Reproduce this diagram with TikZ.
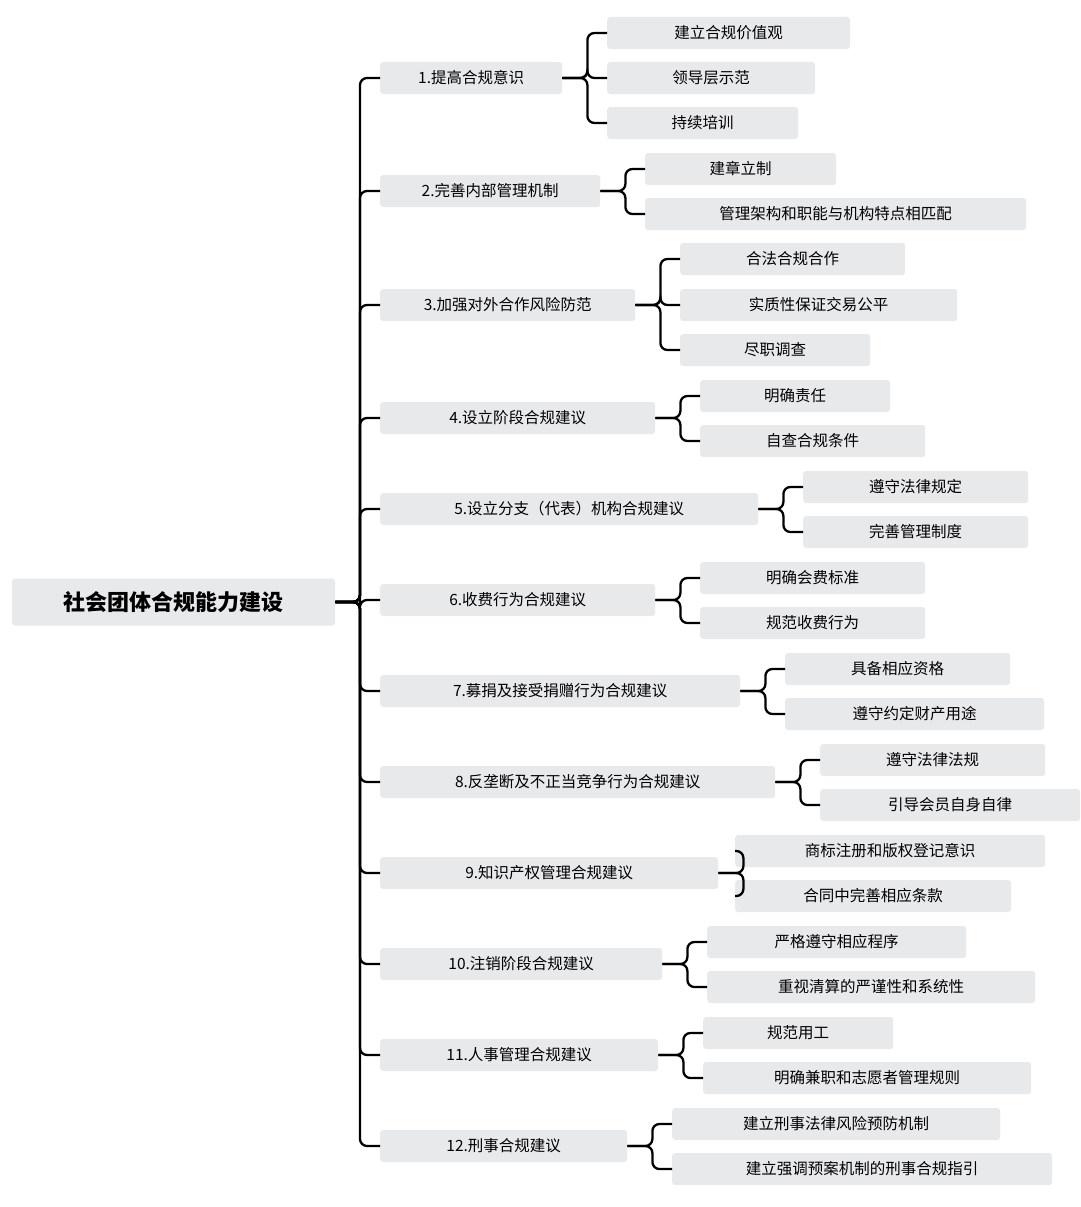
\documentclass[tikz,border=0pt]{standalone}
\usepackage{fontspec}
\setmainfont{Noto Sans CJK SC}
\begin{document}
\begin{tikzpicture}[x=1pt,y=-1pt,
  box/.style={fill=boxgray,rounded corners=3pt,inner sep=0pt,minimum height=32pt,anchor=west,font=\fontsize{15.5}{18}\selectfont},
  conn/.style={line width=2.3pt,rounded corners=7pt}]
\definecolor{boxgray}{HTML}{E8E9EB}
\useasboundingbox (0,0) rectangle (1080,1207);
\node[box,minimum width=323pt,minimum height=47pt,font=\fontsize{22}{26}\selectfont\bfseries] (root) at (12,602) {社会团体合规能力建设};
\foreach \i/\r/\y/\t in {1/562/78/1.提高合规意识,2/600/191/2.完善内部管理机制,3/635/305/3.加强对外合作风险防范,4/655/418/4.设立阶段合规建议,5/758/509/5.设立分支（代表）机构合规建议,6/655/600/6.收费行为合规建议,7/740/691/7.募捐及接受捐赠行为合规建议,8/775/782/8.反垄断及不正当竞争行为合规建议,9/718/873/9.知识产权管理合规建议,10/662/964/10.注销阶段合规建议,11/658/1055/11.人事管理合规建议,12/627/1146/12.刑事合规建议}{
  \pgfmathsetmacro{\w}{\r-380}
  \node[box,minimum width=\w pt] (a\i) at (380,\y) {\t};
  \draw[conn] (root.east) -- (360,602) |- (a\i.west);
}
\foreach \p/\j/\l/\r/\y/\t in {
 1/1/607/850/33/建立合规价值观, 1/2/607/815/78/领导层示范, 1/3/607/798/123/持续培训,
 2/1/645/836/169/建章立制, 2/2/645/1026/214/管理架构和职能与机构特点相匹配,
 3/1/680/905/259/合法合规合作, 3/2/680/957/305/实质性保证交易公平, 3/3/680/870/350/尽职调查,
 4/1/700/890/396/明确责任, 4/2/700/925/441/自查合规条件,
 5/1/803/1028/487/遵守法律规定, 5/2/803/1028/532/完善管理制度,
 6/1/700/925/578/明确会费标准, 6/2/700/925/623/规范收费行为,
 7/1/785/1010/669/具备相应资格, 7/2/785/1044/714/遵守约定财产用途,
 8/1/820/1045/760/遵守法律法规, 8/2/820/1080/805/引导会员自身自律,
 9/1/735/1045/851/商标注册和版权登记意识, 9/2/735/1011/896/合同中完善相应条款,
 10/1/707/966/942/严格遵守相应程序, 10/2/707/1035/987/重视清算的严谨性和系统性,
 11/1/703/893/1033/规范用工, 11/2/703/1031/1078/明确兼职和志愿者管理规则,
 12/1/672/1000/1124/建立刑事法律风险预防机制, 12/2/672/1052/1169/建立强调预案机制的刑事合规指引}{
  \pgfmathsetmacro{\w}{\r-\l}
  \node[box,minimum width=\w pt] (b\p-\j) at (\l,\y) {\t};
  \draw[conn] (a\p.east) -- ++(25,0) |- (b\p-\j.west);
}
\end{tikzpicture}
\end{document}
